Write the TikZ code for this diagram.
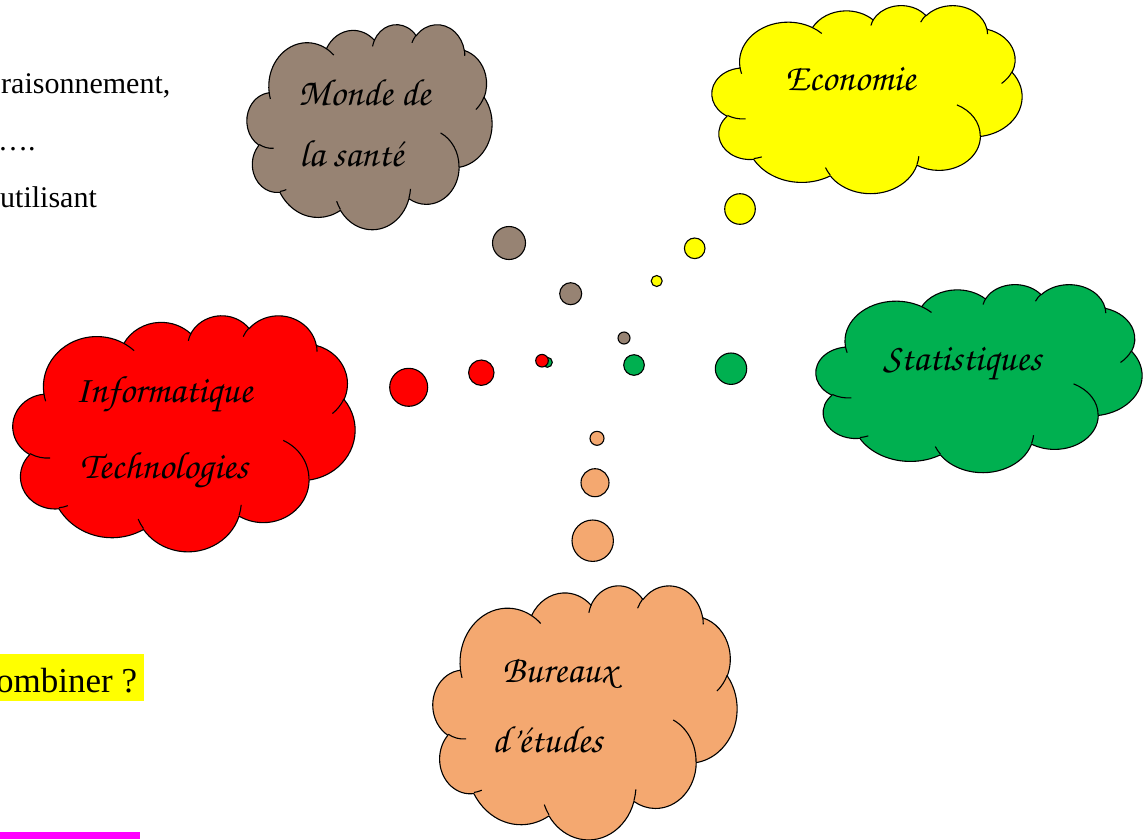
\documentclass[tikz,border=0pt]{standalone}
\usepackage[T1]{fontenc}
\usepackage{fontspec}
\setmainfont{Liberation Serif}
\newcommand\scrfont{\fontencoding{T1}\fontfamily{pzc}\fontseries{mb}\fontshape{it}\fontsize{38}{44}\selectfont}
\definecolor{cbrown}{RGB}{151,131,115}
\definecolor{cyellow}{RGB}{255,255,0}
\definecolor{cgreen}{RGB}{0,176,80}
\definecolor{cred}{RGB}{255,0,0}
\definecolor{corange}{RGB}{244,168,112}
\definecolor{cmagenta}{RGB}{255,0,255}
% DrawingML arcTo: visual angles -> TikZ parametric angles
\newcommand\carc[4]{\pgfextra{%
  \pgfmathsetmacro\cwA{atan2(sin(#3)*#1,cos(#3)*#2)}%
  \pgfmathsetmacro\cwB{atan2(sin(#3+#4)*#1,cos(#3+#4)*#2)}%
  \pgfmathsetmacro\cwD{\cwB-\cwA}%
  \pgfmathsetmacro\cwD{\cwD+360*and(#4>0,\cwD<0)-360*and(#4<0,\cwD>0)}%
 } arc[x radius=#1,y radius=#2,start angle=\cwA,delta angle=\cwD]}
% Word cloud shape: #1 x0, #2 y0, #3 width, #4 height, #5 colour
\newcommand\wcloud[5]{%
 \pgfmathsetmacro\cwx{#3/43.2}\pgfmathsetmacro\cwy{#4/43.2}%
 \begin{scope}[shift={(#1,#2)},x=\cwx pt,y=-\cwy pt]
  \path[cloudline,fill=#5] (3.900,14.370)
   \carc{6.753}{9.190}{-190.4875}{123.7805}
   \carc{5.333}{7.267}{-144.1024}{89.9452}
   \carc{4.365}{5.945}{-145.8079}{99.7230}
   \carc{4.857}{6.595}{-130.9861}{117.2417}
   \carc{5.333}{7.273}{-78.7089}{109.0269}
   \carc{6.775}{9.220}{-46.2673}{130.2690}
   \carc{5.785}{7.867}{0.6250}{114.0333}
   \carc{6.752}{9.215}{22.4516}{115.1726}
   \carc{7.720}{10.543}{66.2426}{75.7110}
   \carc{4.360}{5.918}{-274.9421}{146.7356}
   \carc{4.345}{5.945}{-246.8285}{152.5189} -- cycle;
  \path[cloudline] (4.693,26.177) \carc{4.345}{5.945}{86.7420}{26.4295};
  \path[cloudline] (6.928,34.899) \carc{4.360}{5.918}{73.6105}{11.4475};
  \path[cloudline] (16.478,39.090) \carc{6.752}{9.215}{137.6242}{14.0811};
  \path[cloudline] (28.827,34.751) \carc{6.752}{9.215}{6.4533}{15.9984};
  \path[cloudline] (34.129,22.954) \carc{5.785}{7.867}{-70.2924}{70.9174};
  \path[cloudline] (41.798,15.354) \carc{5.333}{7.273}{30.3180}{27.7515};
  \path[cloudline] (38.324,5.426) \carc{4.857}{6.595}{-13.7443}{14.8589};
  \path[cloudline] (29.078,3.952) \carc{4.857}{6.595}{-149.1815}{18.1954};
  \path[cloudline] (22.141,4.720) \carc{4.365}{5.945}{-163.4943}{17.6864};
  \path[cloudline] (14.000,5.192) \carc{6.753}{9.190}{-66.7070}{12.3194};
  \path[cloudline] (4.127,15.789) \carc{6.753}{9.190}{157.6544}{11.8582};
 \end{scope}}
\tikzset{
 cloudline/.style={draw=black,line width=1.1pt,line join=round},
 bubble/.style={draw=black,line width=1.1pt},
 scr/.style={font=\scrfont,anchor=base west,inner sep=0pt,text=black},
 body/.style={font=\fontsize{30}{36}\selectfont,anchor=base west,inner sep=0pt}
}
\begin{document}
\begin{tikzpicture}[x=1pt,y=-1pt]
\useasboundingbox (0,0) rectangle (1147,839);
\clip (0,0) rectangle (1147,839);
\fill[white] (0,0) rectangle (1147,839);
% body text cut at the left margin
\node[body] (t1) at (1,93) {raisonnement,};
\node[body] (t2) at (-2,150) {\ldots.};
\node[body] (t3) at (0,207) {utilisant};
\fill[cyellow] (0,654) rectangle (144,701);
\node[body,font=\fontsize{35}{40}\selectfont] (t4) at (-4,692) {ombiner ?};
\fill[cmagenta] (0,832) rectangle (140,839);
% clouds
\wcloud{247}{24}{245}{205}{cbrown}
\wcloud{712}{5}{310}{188}{cyellow}
\wcloud{816}{284}{326}{188}{cgreen}
\wcloud{13}{315}{342}{236}{cred}
\wcloud{433}{585}{304}{254}{corange}
% cloud texts
\node[scr] (m1) at (298,105) {Monde de};
\node[scr] (m2) at (299,166) {la sant\'e};
\node[scr] (e1) at (785,90) {Economie};
\node[scr] (s1) at (883,370) {Statistiques};
\node[scr] (i1) at (75,402) {Informatique};
\node[scr] (i2) at (80,478) {Technologies};
\node[scr] (b1) at (502,682) {Bureaux};
\node[scr] (b2) at (492,752) {d'\'etudes};
% thought bubbles
\filldraw[bubble,fill=cbrown] (509,243) circle[radius=16.5];
\filldraw[bubble,fill=cbrown] (570.7,293.7) circle[radius=11];
\filldraw[bubble,fill=cbrown] (624,338) circle[radius=6];
\filldraw[bubble,fill=cyellow] (740,209) circle[radius=15.3];
\filldraw[bubble,fill=cyellow] (694.7,248.3) circle[radius=10.3];
\filldraw[bubble,fill=cyellow] (656.7,281) circle[radius=5.5];
\filldraw[bubble,fill=cgreen] (731,368.7) circle[radius=15.7];
\filldraw[bubble,fill=cgreen] (634,365) circle[radius=10.3];
\filldraw[bubble,fill=cgreen] (547.3,362.3) circle[radius=5];
\filldraw[bubble,fill=cred] (408.7,387.3) circle[radius=19];
\filldraw[bubble,fill=cred] (481.3,372.7) circle[radius=12.7];
\filldraw[bubble,fill=cred] (542,360.7) circle[radius=6.3];
\filldraw[bubble,fill=corange] (592.7,540.7) circle[radius=20.7];
\filldraw[bubble,fill=corange] (595,482.7) circle[radius=14];
\filldraw[bubble,fill=corange] (597,438.3) circle[radius=7];
\end{tikzpicture}
\end{document}
